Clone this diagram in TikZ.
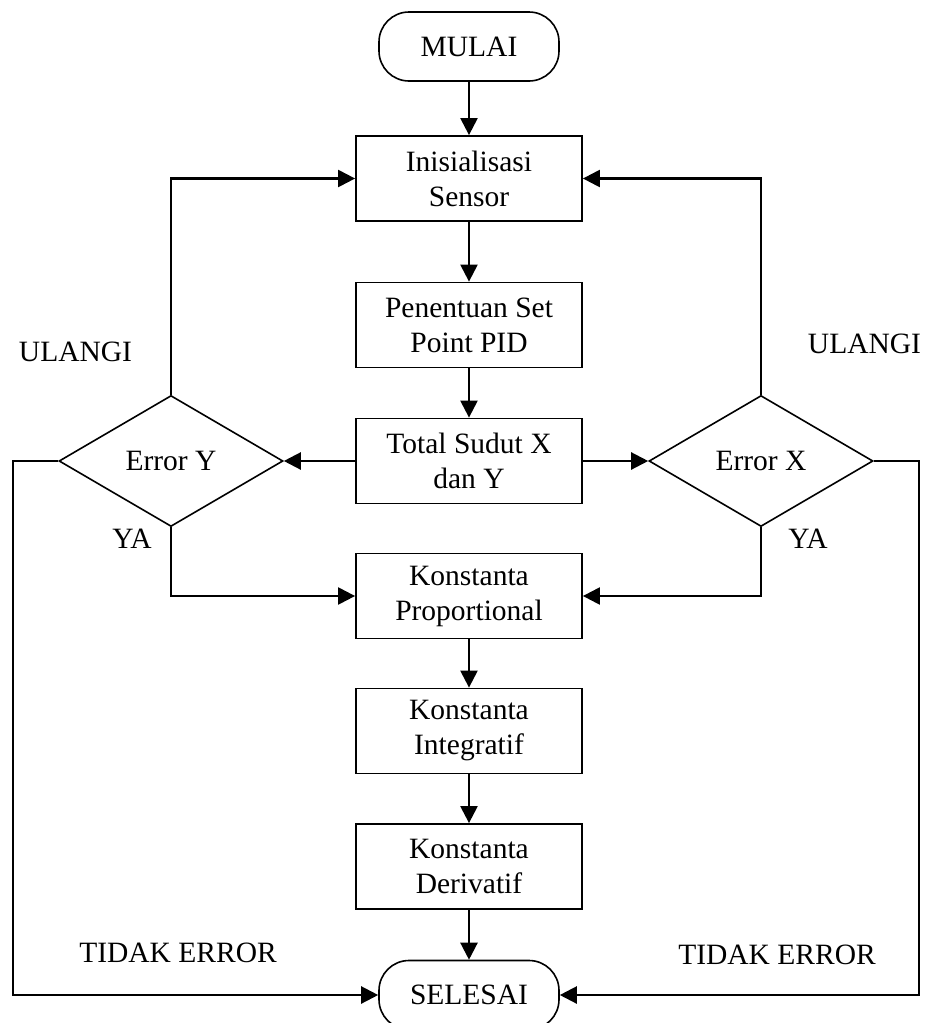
\documentclass[tikz,border=0pt]{standalone}
\usepackage{fontspec}
\setmainfont{Liberation Serif}
\usetikzlibrary{shapes.geometric,arrows.meta}
\begin{document}
\begin{tikzpicture}[x=1pt,y=-1pt,
  every node/.style={font=\fontsize{29.5}{35}\selectfont},
  proc/.style={draw,line width=1.8pt,minimum width=226pt,minimum height=85pt,inner sep=0pt,align=center},
  term/.style={draw,line width=1.6pt,rounded corners=30pt,minimum width=180pt,minimum height=69pt,inner sep=0pt},
  dec/.style={draw,diamond,line width=1.6pt,minimum width=224pt,minimum height=131pt,inner sep=0pt},
  conn/.style={line width=2.3pt,-{Triangle[length=17pt,width=17pt]}},
  lbl/.style={inner sep=0pt}]
\useasboundingbox (0,0) rectangle (925,1023);
\node[term] (mulai) at (469,46.5) {MULAI};
\node[proc] (ini) at (469,178.5) {Inisialisasi\\Sensor};
\node[proc] (pen) at (469,325) {Penentuan Set\\Point PID};
\node[proc] (tot) at (469,461) {Total Sudut X\\dan Y};
\node[proc] (prop) at (469,596) {Konstanta\\Proportional};
\node[proc] (int) at (469,731) {Konstanta\\Integratif};
\node[proc] (der) at (469,866.5) {Konstanta\\Derivatif};
\node[term] (sel) at (469,995) {SELESAI};
\node[dec] (ey) at (171,461) {Error Y};
\node[dec] (ex) at (761,461) {Error X};
\coordinate (lt) at (13,461);
\coordinate (rt) at (919,461);
\draw[conn] (mulai) -- (ini);
\draw[conn] (ini) -- (pen);
\draw[conn] (pen) -- (tot);
\draw[conn] (tot.west) -- (ey.east);
\draw[conn] (tot.east) -- (ex.west);
\draw[conn] (ey.north) |- (ini.west);
\draw[conn] (ex.north) |- (ini.east);
\draw[conn] (ey.south) |- (prop.west);
\draw[conn] (ex.south) |- (prop.east);
\draw[conn] (prop) -- (int);
\draw[conn] (int) -- (der);
\draw[conn] (der) -- (sel);
\draw[conn] (ey.west) -- (lt) |- (sel.west);
\draw[conn] (ex.east) -- (rt) |- (sel.east);
\node[lbl] (ul1) at (75.5,352) {ULANGI};
\node[lbl] (ul2) at (864.5,344) {ULANGI};
\node[lbl] (ya1) at (132,539) {YA};
\node[lbl] (ya2) at (808,539) {YA};
\node[lbl] (te1) at (178,953) {TIDAK ERROR};
\node[lbl] (te2) at (777,955) {TIDAK ERROR};
\end{tikzpicture}
\end{document}
